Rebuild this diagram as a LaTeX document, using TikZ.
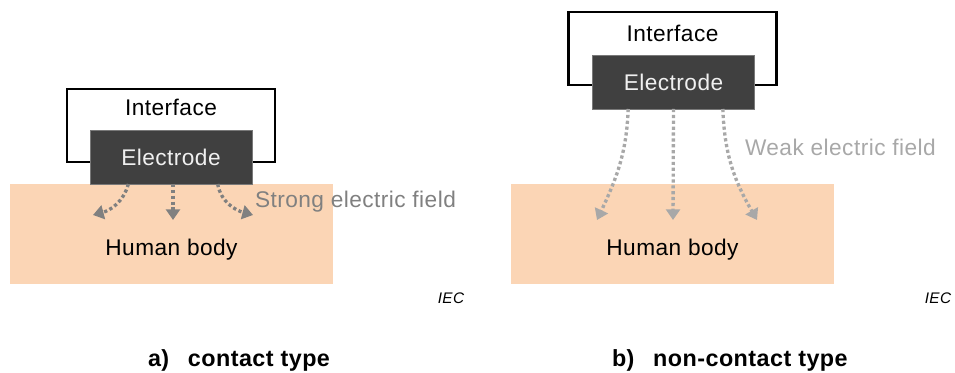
\documentclass[tikz,border=0pt]{standalone}
\usepackage{fontspec}
\setmainfont[LetterSpace=2]{Liberation Sans}
\usetikzlibrary{arrows.meta}
\definecolor{bodyfill}{HTML}{FBD5B5}
\definecolor{elecfill}{HTML}{404040}
\definecolor{strongcol}{HTML}{808080}
\definecolor{weakcol}{HTML}{A8A8A8}

\begin{document}
\begin{tikzpicture}[x=0.75pt,y=-0.75pt,
  every node/.style={font=\fontsize{17}{20}\selectfont,inner sep=0pt,outer sep=0pt},
  ifacebox/.style={draw=black,line width=1.6pt,fill=white,minimum width=156pt,minimum height=54.75pt},
  elecbox/.style={fill=elecfill,draw=elecfill!70!white,line width=0.6pt,text=white!94!black,minimum width=121.5pt,minimum height=40.5pt},
  bodybox/.style={fill=bodyfill,minimum width=242.25pt,minimum height=75pt},
  field/.style={line width=2.5pt,dash pattern=on 2.4pt off 2pt,-{Triangle[width=10.5pt,length=8pt]}},
  iec/.style={font=\fontsize{11.5}{13}\selectfont\itshape},
  caption/.style={font=\fontsize{17.5}{20}\selectfont\bfseries,anchor=west}]
 	\useasboundingbox (0,0) rectangle (955,373);
 	\node [ifacebox] (ifaceA) at (171,125.5) {};
 	\node [bodybox] (bodyA) at (171.5,234) {};
 	\node [elecbox] (elecA) at (171,157) {Electrode};
 	\node (ifaceA-txt) at ([yshift=-13.5pt]ifaceA.north) {Interface};
 	\node (bodyA-txt) at ([yshift=-12pt]bodyA.center) {Human body};
 	\coordinate (tipA1) at (93,215);
 	\coordinate (tipA2) at (173,220);
 	\coordinate (tipA3) at (253,215);
 	\draw [field,strongcol] ([xshift=-32pt]elecA.south) to[out=-105,in=15] (tipA1);
 	\draw [field,strongcol] ([xshift=1.5pt]elecA.south) -- (tipA2);
 	\draw [field,strongcol] ([xshift=35pt]elecA.south) to[out=-80,in=165] (tipA3);
 	\node [anchor=west,text=strongcol] (fieldA) at (255,202) {Strong electric field};
 	\node [iec] (iecA) at (451,298) {IEC};
 	\node [caption] (capA) at (148,360) {a)\hspace{14pt}contact type};
 	\node [ifacebox] (ifaceB) at (672.5,48.5) {};
 	\node [bodybox] (bodyB) at (672.5,234) {};
 	\node [elecbox] (elecB) at (673.5,82) {Electrode};
 	\node (ifaceB-txt) at ([yshift=-16pt]ifaceB.north) {Interface};
 	\node (bodyB-txt) at ([yshift=-12pt]bodyB.center) {Human body};
 	\coordinate (tipB1) at (597,220);
 	\coordinate (tipB2) at (673,220);
 	\coordinate (tipB3) at (757,220);
 	\draw [field,weakcol] ([xshift=-34pt]elecB.south) to[out=-92,in=65] (tipB1);
 	\draw [field,weakcol] (elecB.south) -- (tipB2);
 	\draw [field,weakcol] ([xshift=37pt]elecB.south) to[out=-88,in=120] (tipB3);
 	\node [anchor=west,text=weakcol] (fieldB) at (745,147) {Weak electric field};
 	\node [iec] (iecB) at (938,298) {IEC};
 	\node [caption] (capB) at (612,360) {b)\hspace{14pt}non-contact type};
\end{tikzpicture}
\end{document}
